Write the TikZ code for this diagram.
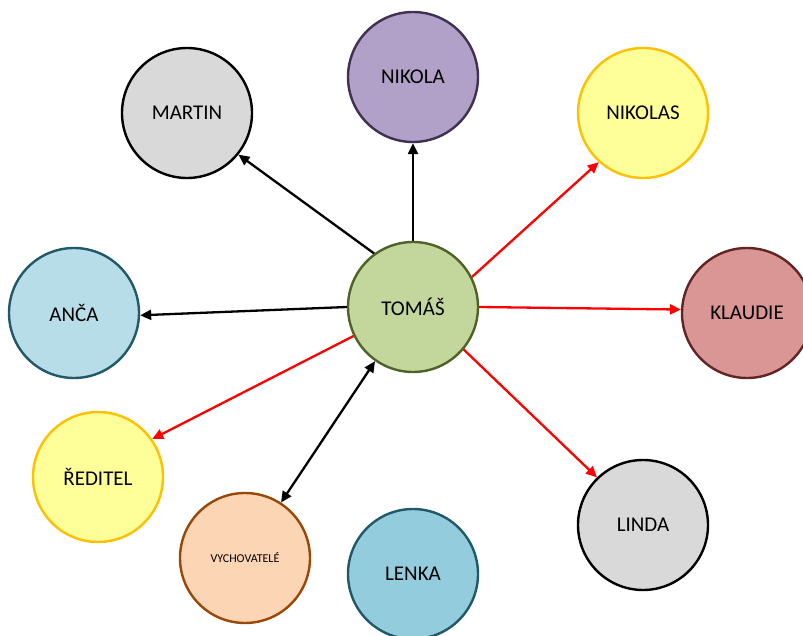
\documentclass[tikz,border=0pt]{standalone}
\usepackage{fontspec}
\setmainfont{Carlito}
\usetikzlibrary{arrows.meta}
\definecolor{purFill}{HTML}{B1A0C7}\definecolor{purLine}{HTML}{3F3151}
\definecolor{grayFill}{HTML}{D9D9D9}
\definecolor{yelFill}{HTML}{FFFF99}\definecolor{yelLine}{HTML}{FFC000}
\definecolor{ancaFill}{HTML}{B7DEE8}\definecolor{tealLine}{HTML}{215968}
\definecolor{greenFill}{HTML}{C3D69B}\definecolor{greenLine}{HTML}{4F6228}
\definecolor{redFill}{HTML}{D99694}\definecolor{redLine}{HTML}{632523}
\definecolor{peachFill}{HTML}{FCD5B5}\definecolor{peachLine}{HTML}{984807}
\definecolor{lenkaFill}{HTML}{93CDDD}
\definecolor{arrRed}{HTML}{FF0000}
\tikzset{
  person/.style={circle, minimum size=130pt, inner sep=0pt, line width=2.4pt, font=\fontsize{21}{25}\selectfont, text=black},
  blk/.style={line width=2.3pt, black, -{Triangle[length=11pt,width=10pt]}},
  rd/.style={line width=2.3pt, arrRed, -{Triangle[length=11pt,width=10pt]}},
  both/.style={line width=2.3pt, black, {Triangle[length=11pt,width=10pt]}-{Triangle[length=11pt,width=10pt]}}
}
\begin{document}
\begin{tikzpicture}[x=1pt,y=-1pt]
\useasboundingbox (0,0) rectangle (803,636);
\node[person, fill=purFill, draw=purLine] (nikola) at (413,77) {NIKOLA};
\node[person, fill=grayFill, draw=black] (martin) at (187,113) {MARTIN};
\node[person, fill=yelFill, draw=yelLine] (nikolas) at (643,113) {NIKOLAS};
\node[person, fill=ancaFill, draw=tealLine] (anca) at (74,313) {ANČA};
\node[person, fill=greenFill, draw=greenLine] (tomas) at (413,307) {TOMÁŠ};
\node[person, fill=redFill, draw=redLine] (klaudie) at (747,313) {KLAUDIE};
\node[person, fill=yelFill, draw=yelLine] (reditel) at (98,477) {ŘEDITEL};
\node[person, fill=peachFill, draw=peachLine, font=\fontsize{12}{14}\selectfont] (vych) at (245,558) {VYCHOVATELÉ};
\node[person, fill=lenkaFill, draw=tealLine] (lenka) at (413,574) {LENKA};
\node[person, fill=grayFill, draw=black] (linda) at (643,525) {LINDA};

\draw[blk] (tomas.90) -- (nikola.-90);
\draw[blk] (tomas.126) -- (martin.-39);
\draw[blk] (tomas.180) -- (anca.-2);
\draw[rd] (tomas.27) -- (nikolas.-132);
\draw[rd] (tomas.0) -- (klaudie.177);
\draw[rd] (tomas.-154) -- (reditel.35);
\draw[both] (tomas.-125) -- (vych.57);
\draw[rd] (tomas.-40) -- (linda.134);
\end{tikzpicture}
\end{document}
